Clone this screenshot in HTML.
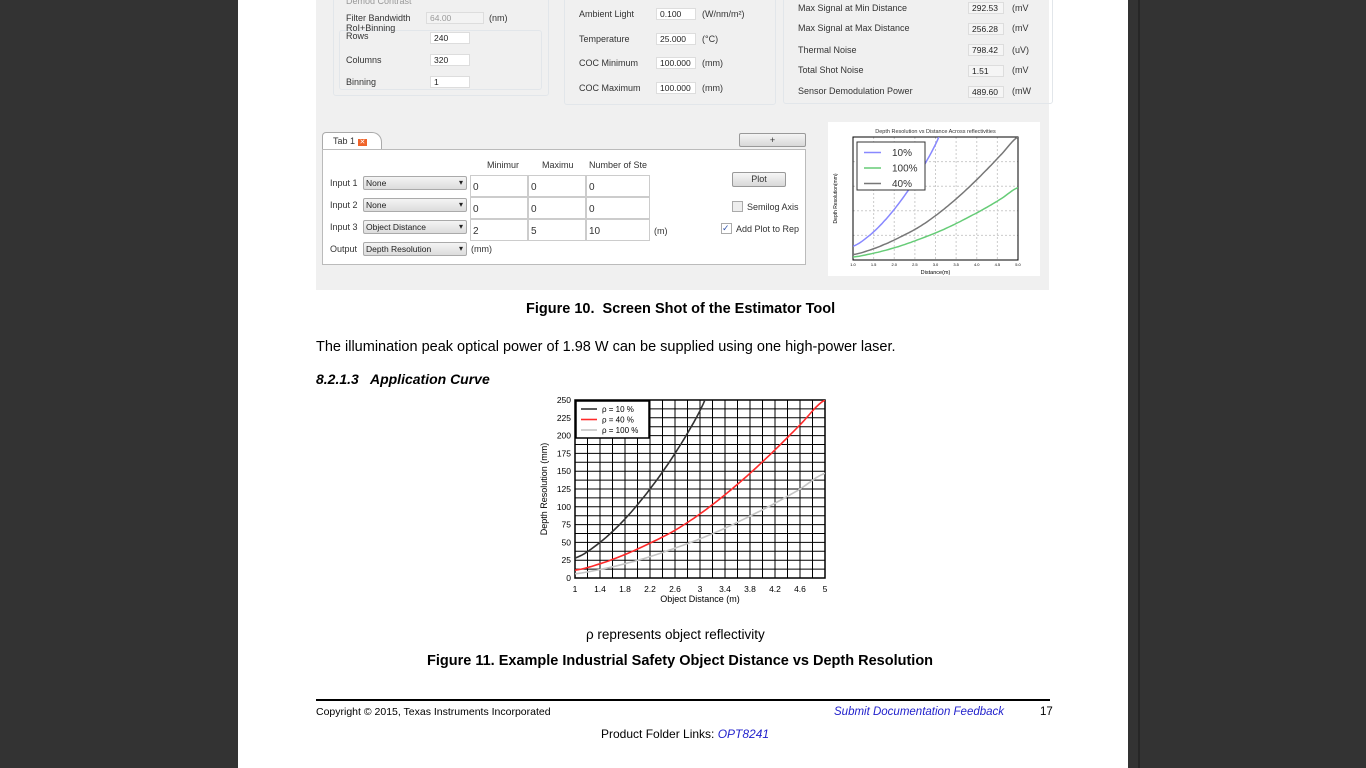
<!DOCTYPE html>
<html><head><meta charset="utf-8"><style>
*{margin:0;padding:0;box-sizing:border-box}
body{width:1366px;height:768px;background:#333;position:relative;overflow:hidden;font-family:"Liberation Sans",sans-serif;color:#000}
.abs{position:absolute;white-space:nowrap}
#page{position:absolute;left:238px;top:0;width:890px;height:768px;background:#fff}
#shot{position:absolute;left:316px;top:0;width:733px;height:290px;background:#f0f0f0;font-size:9px;color:#333}
.box{position:absolute;border:1px solid #e2e6ea;border-radius:3px}
.inp{position:absolute;background:#fff;border:1px solid #ddd;height:12px;font-size:8.5px;padding-left:3px;line-height:11px;color:#222}
.sel{position:absolute;background:linear-gradient(#f4f4f4,#dcdcdc);border:1px solid #aaa;height:14px;font-size:8.5px;padding-left:2px;line-height:12px;color:#222;border-radius:2px}
.sel:after{content:"▾";position:absolute;right:3px;top:0;font-size:8px}
.cell{position:absolute;background:#fff;border:1px solid #ccc;width:58px;height:22px;font-size:10px;padding:6px 0 0 2px}
</style></head><body>
<div></div>
<div id="page"></div>
<div class="abs" style="left:1138px;top:0;width:2px;height:768px;background:#262626"></div>

<div id="shot">
  <div class="box" style="left:17px;top:-5px;width:216px;height:101px"></div>
  <div class="box" style="left:23px;top:30px;width:203px;height:60px"></div>
  <div class="abs" style="left:30px;top:-4px;color:#999">Demod Contrast</div>
  <div class="abs" style="left:30px;top:13px">Filter Bandwidth</div>
  <div class="inp" style="left:110px;top:12px;width:58px;color:#999;background:#f3f3f3">64.00</div>
  <div class="abs" style="left:173px;top:13px">(nm)</div>
  <div class="abs" style="left:30px;top:24px;line-height:8px">RoI+Binning<br>Rows</div>
  <div class="inp" style="left:114px;top:32px;width:40px">240</div>
  <div class="abs" style="left:30px;top:55px">Columns</div>
  <div class="inp" style="left:114px;top:54px;width:40px">320</div>
  <div class="abs" style="left:30px;top:77px">Binning</div>
  <div class="inp" style="left:114px;top:76px;width:40px">1</div>

  <div class="box" style="left:248px;top:-5px;width:212px;height:110px"></div>
  <div class="abs" style="left:263px;top:9px">Ambient Light</div>
  <div class="inp" style="left:340px;top:8px;width:40px">0.100</div>
  <div class="abs" style="left:386px;top:9px">(W/nm/m²)</div>
  <div class="abs" style="left:263px;top:34px">Temperature</div>
  <div class="inp" style="left:340px;top:33px;width:40px">25.000</div>
  <div class="abs" style="left:386px;top:34px">(°C)</div>
  <div class="abs" style="left:263px;top:58px">COC Minimum</div>
  <div class="inp" style="left:340px;top:57px;width:40px">100.000</div>
  <div class="abs" style="left:386px;top:58px">(mm)</div>
  <div class="abs" style="left:263px;top:83px">COC Maximum</div>
  <div class="inp" style="left:340px;top:82px;width:40px">100.000</div>
  <div class="abs" style="left:386px;top:83px">(mm)</div>

  <div class="box" style="left:467px;top:-5px;width:270px;height:109px"></div>
  <div class="abs" style="left:482px;top:3px">Max Signal at Min Distance</div>
  <div class="abs" style="left:482px;top:23px">Max Signal at Max Distance</div>
  <div class="abs" style="left:482px;top:45px">Thermal Noise</div>
  <div class="abs" style="left:482px;top:65px">Total Shot Noise</div>
  <div class="abs" style="left:482px;top:86px">Sensor Demodulation Power</div>
  <div class="inp" style="left:652px;top:2px;width:36px;background:#f5f5f5">292.53</div>
  <div class="inp" style="left:652px;top:23px;width:36px;background:#f5f5f5">256.28</div>
  <div class="inp" style="left:652px;top:44px;width:36px;background:#f5f5f5">798.42</div>
  <div class="inp" style="left:652px;top:65px;width:36px;background:#f5f5f5">1.51</div>
  <div class="inp" style="left:652px;top:86px;width:36px;background:#f5f5f5">489.60</div>
  <div class="abs" style="left:696px;top:3px">(mV</div>
  <div class="abs" style="left:696px;top:23px">(mV</div>
  <div class="abs" style="left:696px;top:45px">(uV)</div>
  <div class="abs" style="left:696px;top:65px">(mV</div>
  <div class="abs" style="left:696px;top:86px">(mW</div>

  <div style="position:absolute;left:6px;top:132px;width:60px;height:18px;background:#fff;border:1px solid #aaa;border-bottom:none;border-radius:4px 10px 0 0;padding:3px 0 0 10px">Tab 1 <span style="background:#f0642a;color:#fff;font-size:7px;padding:0 2px">✕</span></div>
  <div style="position:absolute;left:6px;top:149px;width:484px;height:116px;background:#fff;border:1px solid #bbb"></div>
  <div style="position:absolute;left:423px;top:133px;width:67px;height:14px;background:linear-gradient(#f4f4f4,#d8d8d8);border:1px solid #999;border-radius:2px;text-align:center;font-size:9px;line-height:12px">+</div>
  <div class="abs" style="left:171px;top:160px">Minimur</div>
  <div class="abs" style="left:226px;top:160px">Maximu</div>
  <div class="abs" style="left:273px;top:160px">Number of Ste</div>
  <div class="abs" style="left:14px;top:178px">Input 1</div>
  <div class="abs" style="left:14px;top:200px">Input 2</div>
  <div class="abs" style="left:14px;top:222px">Input 3</div>
  <div class="abs" style="left:14px;top:244px">Output</div>
  <div class="sel" style="left:47px;top:176px;width:104px">None</div>
  <div class="sel" style="left:47px;top:198px;width:104px">None</div>
  <div class="sel" style="left:47px;top:220px;width:104px">Object Distance</div>
  <div class="sel" style="left:47px;top:242px;width:104px">Depth Resolution</div>
  <div class="cell" style="left:154px;top:175px">0</div><div class="cell" style="left:212px;top:175px">0</div><div class="cell" style="left:270px;top:175px;width:64px">0</div>
  <div class="cell" style="left:154px;top:197px">0</div><div class="cell" style="left:212px;top:197px">0</div><div class="cell" style="left:270px;top:197px;width:64px">0</div>
  <div class="cell" style="left:154px;top:219px">2</div><div class="cell" style="left:212px;top:219px">5</div><div class="cell" style="left:270px;top:219px;width:64px">10</div>
  <div class="abs" style="left:338px;top:226px">(m)</div>
  <div class="abs" style="left:155px;top:244px">(mm)</div>
  <div style="position:absolute;left:416px;top:172px;width:54px;height:15px;background:linear-gradient(#f6f6f6,#d8d8d8);border:1px solid #999;border-radius:2px;text-align:center;line-height:13px">Plot</div>
  <div style="position:absolute;left:416px;top:201px;width:11px;height:11px;border:1px solid #aaa;background:#eee"></div>
  <div class="abs" style="left:431px;top:202px">Semilog Axis</div>
  <div style="position:absolute;left:405px;top:223px;width:11px;height:11px;border:1px solid #aaa;background:#fff;font-size:9px;line-height:9px;color:#35a">✓</div>
  <div class="abs" style="left:420px;top:224px">Add Plot to Rep</div>

  <svg id="mini" style="position:absolute;left:512px;top:122px" width="212" height="154"></svg>
</div>

<div class="abs" style="left:526px;top:301px;font-size:14.5px;font-weight:bold">Figure 10.&nbsp; Screen Shot of the Estimator Tool</div>
<div class="abs" style="left:316px;top:339px;font-size:14.5px">The illumination peak optical power of 1.98 W can be supplied using one high-power laser.</div>
<div class="abs" style="left:316px;top:371px;font-size:14px;font-weight:bold;font-style:italic">8.2.1.3&nbsp;&nbsp; Application Curve</div>

<svg id="chart" style="position:absolute;left:530px;top:392px" width="310" height="220"></svg>

<div class="abs" style="left:586px;top:627px;font-size:13.5px">ρ represents object reflectivity</div>
<div class="abs" style="left:427px;top:653px;font-size:14.5px;font-weight:bold">Figure 11. Example Industrial Safety Object Distance vs Depth Resolution</div>
<div class="abs" style="left:316px;top:699px;width:734px;height:2px;background:#000"></div>
<div class="abs" style="left:316px;top:706px;font-size:10.5px">Copyright © 2015, Texas Instruments Incorporated</div>
<div class="abs" style="left:834px;top:706px;font-size:11.5px;font-style:italic;color:#22c">Submit Documentation Feedback</div>
<div class="abs" style="left:1040px;top:706px;font-size:11.5px">17</div>
<div class="abs" style="left:601px;top:727px;font-size:12px">Product Folder Links: <span style="color:#22c;font-style:italic">OPT8241</span></div>

<script>
const xs = [1,1.4,1.8,2.2,2.6,3,3.4,3.8,4.2,4.6,5];
const rho10 = [28,50,83,125,175,235,310,null,null,null,null];
const rho40 = [11,20,33,49,67,90,117,147,180,215,250];
const rho100 = [6,12,20,30,42,55,70,87,105,125,147];
const xTicks = [1,1.4,1.8,2.2,2.6,3,3.4,3.8,4.2,4.6,5];
const yTicks = [0,25,50,75,100,125,150,175,200,225,250];
const legendLabels = ["ρ =  10 %","ρ =  40 %","ρ = 100 %"];
const miniXTicks = ["1.0","1.5","2.0","2.5","3.0","3.5","4.0","4.5","5.0"];
const miniLegend = ["10%","100%","40%"];

const NS="http://www.w3.org/2000/svg";
function mk(svg,tag,at){const e=document.createElementNS(NS,tag);for(const k in at)e.setAttribute(k,at[k]);svg.appendChild(e);return e;}
function pathFor(xv,yv,sx,sy){let d="";let started=false;
  for(let i=0;i<xv.length;i++){if(yv[i]==null)break;
    d+=(started?"L":"M")+sx(xv[i]).toFixed(1)+","+sy(yv[i]).toFixed(1);started=true;}
  return d;}
function smooth(xv,yv){
  const ox=[],oy=[];const n=yv.filter(v=>v!=null).length;
  for(let i=0;i<n-1;i++){for(let t=0;t<1;t+=0.125){
    const a=Math.max(0,i-1),b=i,c=i+1,d=Math.min(n-1,i+2);
    const p0=yv[a],p1=yv[b],p2=yv[c],p3=yv[d];
    const y=0.5*((2*p1)+(-p0+p2)*t+(2*p0-5*p1+4*p2-p3)*t*t+(-p0+3*p1-3*p2+p3)*t*t*t);
    ox.push(xv[b]+(xv[c]-xv[b])*t);oy.push(y);}}
  ox.push(xv[n-1]);oy.push(yv[n-1]);return [ox,oy];}

(function(){
  const svg=document.getElementById('chart');
  const L=45,R=295,T=8,B=186;
  const sx=v=>L+(v-1)/4*(R-L), sy=v=>B-v/250*(B-T);
  const cp=mk(svg,'clipPath',{id:'cp'});const cr=document.createElementNS(NS,'rect');
  cr.setAttribute('x',L);cr.setAttribute('y',T);cr.setAttribute('width',R-L);cr.setAttribute('height',B-T);cp.appendChild(cr);
  for(let v=1;v<=5.0001;v+=0.2){const g=mk(svg,'line',{x1:sx(v),x2:sx(v),y1:T,y2:B,stroke:'#000','stroke-width':1});
    }
  for(let v=0;v<=250;v+=12.5){const g=mk(svg,'line',{x1:L,x2:R,y1:sy(v),y2:sy(v),stroke:'#000','stroke-width':1});
    }
  const fr=mk(svg,'rect',{x:L,y:T,width:R-L,height:B-T,fill:'none',stroke:'#000','stroke-width':1.5});
  
  xTicks.forEach(v=>{const t=mk(svg,'text',{x:sx(v),y:B+14,'font-size':8.5,'text-anchor':'middle','font-family':'Liberation Sans'});t.textContent=v;
    });
  yTicks.forEach(v=>{const t=mk(svg,'text',{x:L-4,y:sy(v)+3,'font-size':8.5,'text-anchor':'end','font-family':'Liberation Sans'});t.textContent=v;
    });
  const xt=mk(svg,'text',{x:(L+R)/2,y:B+24,'font-size':9,'text-anchor':'middle','font-family':'Liberation Sans'});xt.textContent='Object Distance (m)';
  
  const yt=mk(svg,'text',{x:0,y:0,'font-size':9,'text-anchor':'middle','font-family':'Liberation Sans',transform:`translate(17,${(T+B)/2}) rotate(-90)`});yt.textContent='Depth Resolution (mm)';
  
  const series=[[rho100,'#c4c4c4','series-rho-100'],[rho40,'#ff2a2a','series-rho-40'],[rho10,'#333','series-rho-10']];
  series.forEach(([ys,c,n])=>{const [ox,oy]=smooth(xs,ys);const p=mk(svg,'path',{d:pathFor(ox,oy,sx,sy),fill:'none',stroke:c,'stroke-width':1.6,'clip-path':'url(#cp)'});
    });
  const lg=mk(svg,'rect',{x:L+1,y:T+1,width:73,height:37,fill:'#fff',stroke:'#000','stroke-width':1.5});
  
  const lc=['#333','#ff2a2a','#c4c4c4'];
  legendLabels.forEach((s,i)=>{const y=T+12+i*10.5;
    const l=mk(svg,'line',{x1:L+6,x2:L+22,y1:y-3,y2:y-3,stroke:lc[i],'stroke-width':1.6});
    
    const t=mk(svg,'text',{x:L+27,y:y,'font-size':8,'font-family':'Liberation Sans'});t.textContent=s;
    });
})();

(function(){
  const svg=document.getElementById('mini');
  mk(svg,'rect',{x:0,y:0,width:212,height:154,fill:'#fff'});
  const L=25,R=190,T=15,B=138;
  const sx=v=>L+(v-1)/4*(R-L), sy=v=>B-v/250*(B-T);
  const cp=mk(svg,'clipPath',{id:'cp2'});const r=document.createElementNS(NS,'rect');
  r.setAttribute('x',L);r.setAttribute('y',T);r.setAttribute('width',R-L);r.setAttribute('height',B-T);cp.appendChild(r);
  for(let v=1;v<=5.0001;v+=0.5)mk(svg,'line',{x1:sx(v),x2:sx(v),y1:T,y2:B,stroke:'#ccc','stroke-dasharray':'2,2'});
  for(let v=0;v<=250;v+=50)mk(svg,'line',{x1:L,x2:R,y1:sy(v),y2:sy(v),stroke:'#ccc','stroke-dasharray':'2,2'});
  mk(svg,'rect',{x:L,y:T,width:R-L,height:B-T,fill:'none',stroke:'#000'});
  [[rho10,'#8888ff'],[rho100,'#66cc77'],[rho40,'#777']].forEach(([ys,c])=>{const [ox,oy]=smooth(xs,ys);
    const p=mk(svg,'path',{d:pathFor(ox,oy,sx,sy),fill:'none',stroke:c,'stroke-width':1.5,'clip-path':'url(#cp2)'});
    });
  const t0=mk(svg,'text',{x:(L+R)/2,y:11,'font-size':5.5,'text-anchor':'middle',fill:'#333','font-family':'Liberation Sans'});t0.textContent='Depth Resolution vs Distance Across reflectivities';
  
  miniXTicks.forEach((s,i)=>{const t=mk(svg,'text',{x:sx(1+i*0.5),y:B+6,'font-size':4,'text-anchor':'middle','font-family':'Liberation Sans'});t.textContent=s;});
  const xt=mk(svg,'text',{x:(L+R)/2,y:B+14,'font-size':5.5,'text-anchor':'middle','font-family':'Liberation Sans'});xt.textContent='Distance(m)';
  const yt=mk(svg,'text',{x:0,y:0,'font-size':5,'text-anchor':'middle','font-family':'Liberation Sans',transform:`translate(9,${(T+B)/2}) rotate(-90)`});yt.textContent='Depth Resolution(mm)';
  const lg=mk(svg,'rect',{x:L+4,y:T+5,width:68,height:48,fill:'#fff',stroke:'#333'});
  
  const mc=['#8888ff','#66cc77','#777'];
  miniLegend.forEach((s,i)=>{const y=T+19+i*15.5;
    mk(svg,'line',{x1:L+11,x2:L+28,y1:y-3.5,y2:y-3.5,stroke:mc[i],'stroke-width':1.5});
    const t=mk(svg,'text',{x:L+39,y:y,'font-size':10,fill:'#333','font-family':'Liberation Sans'});t.textContent=s;});
})();
</script>
</body></html>
